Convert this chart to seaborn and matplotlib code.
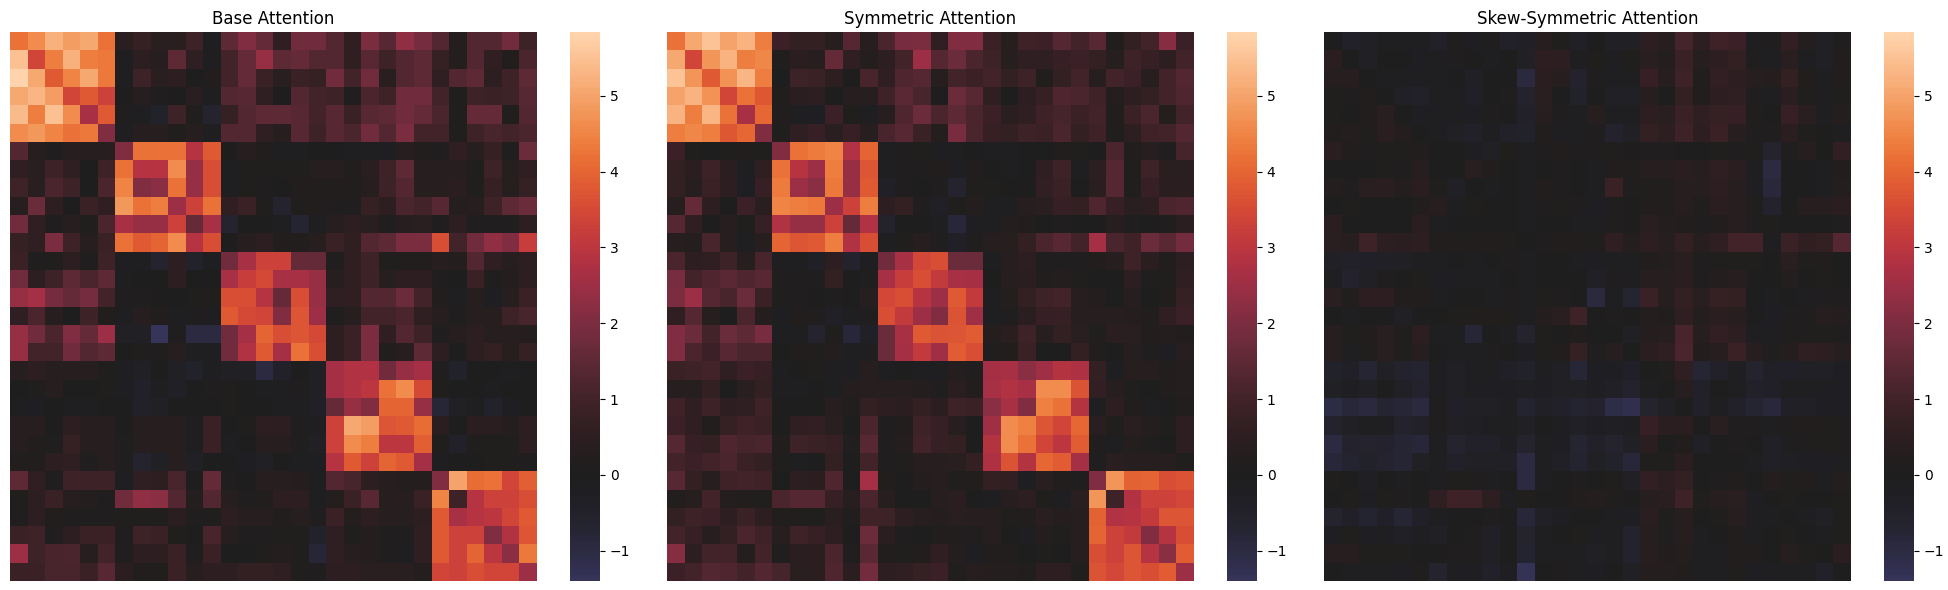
import numpy as np
import matplotlib
matplotlib.use("Agg")
import matplotlib.pyplot as plt
import seaborn as sns

titles = ["Base Attention", "Symmetric Attention", "Skew-Symmetric Attention"]

base_rows = [
    [4.2,4.6,5.2,4.9,5.1,4.2, 0.4,0.7,0.4,0.4,0.9,-0.1, 1.5,2.1,1.6,0.6,1.8,1.8, 1.3,0.6,2.0,1.4,2.3,1.9, 1.3,0.25,1.3,1.3,1.8,0.9],
    [5.5,3.4,4.4,5.2,4.4,4.3, -0.1,0.5,0.3,1.5,0.6,-0.1, 1.0,1.6,2.4,1.5,1.6,1.3, 1.3,0.6,1.4,0.9,1.3,1.5, 0.7,0.25,1.3,0.6,0.2,1.2],
    [5.84,5.1,3.8,4.5,5.1,4.3, -0.1,0.9,0.4,0.5,0.0,0.2, 1.0,1.6,0.8,0.4,0.8,0.7, 1.8,1.0,1.8,0.4,1.3,1.5, 0.6,1.3,1.5,0.5,0.9,1.5],
    [5.1,5.3,4.9,3.4,3.8,3.3, 0.0,0.3,0.05,0.0,0.4,-0.2, 1.3,1.4,0.6,0.0,1.3,1.0, 0.9,0.05,1.2,0.9,1.8,1.8, 1.0,0.15,0.9,0.8,0.9,1.4],
    [5.4,4.4,5.5,4.6,2.7,3.8, 0.05,-0.15,-0.5,0.9,0.15,-0.6, 0.7,1.3,1.5,1.5,1.4,1.0, 1.4,0.8,1.4,1.5,1.8,1.6, 1.2,0.15,1.6,1.6,0.15,1.3],
    [4.6,4.8,4.5,4.2,4.3,2.1, -0.1,0.3,0.3,0.2,0.3,-0.2, 1.3,1.3,0.6,0.3,1.4,0.9, 1.4,1.2,1.8,1.3,2.0,1.0, 1.0,0.15,0.9,1.1,1.0,1.2],
    [1.3,0.3,0.05,0.3,0.3,0.3, 2.1,4.2,4.2,4.2,2.9,3.8, 0.0,0.3,0.2,-0.1,-0.1,0.0, 0.0,-0.1,-0.1,-0.1,0.3,0.2, 0.05,0.6,0.3,0.7,0.05,1.7],
    [0.6,0.4,0.9,0.6,0.0,0.9, 4.2,2.9,2.9,4.6,2.4,3.6, -0.15,0.15,0.1,0.1,0.1,0.3, 0.3,0.2,0.4,0.9,1.5,0.3, 0.35,0.35,0.15,0.9,0.35,0.6],
    [0.9,0.4,1.2,0.9,0.0,1.2, 4.5,2.1,2.2,4.2,2.4,3.6, -0.2,0.15,0.05,-0.05,0.2,0.2, 0.2,0.2,0.3,0.9,1.3,0.3, 0.35,0.45,0.15,0.7,0.35,0.7],
    [0.3,1.7,0.5,0.0,0.8,0.6, 4.8,4.2,4.4,2.5,3.3,4.2, 0.6,0.8,0.15,-0.6,0.15,0.2, 0.05,0.05,0.7,0.5,1.2,1.0, 1.4,0.25,0.35,0.9,1.5,1.7],
    [1.8,0.6,0.05,0.3,0.15,1.2, 2.7,2.4,2.4,3.3,1.6,2.7, -0.6,0.0,-0.05,-0.2,-0.7,-0.2, 0.3,0.5,0.4,0.05,0.3,0.4, 0.05,0.5,0.05,0.05,0.05,0.5],
    [0.7,0.6,2.0,0.9,0.3,0.8, 4.2,3.8,4.0,4.6,2.9,3.6, 0.0,0.3,0.5,0.2,0.2,0.3, 0.8,0.6,1.3,1.5,2.0,2.0, 3.6,1.0,1.8,2.3,2.1,3.2],
    [0.8,0.05,0.15,0.5,0.05,0.9, -0.15,-0.15,-0.6,0.5,-0.5,-0.15, 1.8,2.7,3.3,3.3,1.6,1.6, 0.05,0.6,0.9,0.1,0.2,0.2, 0.3,0.25,1.3,0.6,0.35,0.55],
    [1.8,0.5,0.9,1.5,1.2,1.5, -0.15,0.0,0.0,0.5,-0.05,-0.05, 2.7,3.2,3.5,2.7,2.7,2.4, 0.3,0.6,0.9,0.3,0.5,0.5, 0.05,0.0,0.8,0.05,0.25,0.55],
    [2.4,2.6,1.9,1.6,1.9,1.0, 0.05,0.05,0.0,0.0,0.1,0.1, 3.6,3.6,2.9,1.6,3.6,2.4, 0.6,0.6,1.3,1.3,1.7,1.0, 0.2,-0.15,0.3,-0.15,0.3,0.8],
    [0.6,1.2,0.3,0.0,0.9,0.2, -0.2,0.3,0.2,-0.15,0.05,-0.1, 3.8,3.5,3.4,2.1,3.7,2.5, 0.05,0.3,1.0,1.0,1.2,0.6, 0.3,0.05,0.3,0.3,0.9,1.1],
    [2.4,1.8,1.2,2.1,1.6,2.5, -0.3,-0.3,-1.4,0.05,-1.0,-1.0, 1.8,2.6,4.0,3.6,3.7,3.5, 0.5,0.8,2.0,0.6,1.3,0.9, 0.05,0.3,0.5,0.3,0.35,0.25],
    [2.4,1.0,1.0,1.8,1.3,1.5, 0.0,0.1,0.05,0.3,-0.15,-0.2, 1.8,2.8,3.8,2.6,4.2,3.6, 0.5,0.8,2.0,0.2,0.3,1.5, 0.55,0.0,0.55,0.65,0.3,0.7],
    [0.3,0.5,0.3,0.3,0.3,0.1, -0.15,-0.3,0.0,-0.3,-0.5,-0.2, -0.3,-0.3,-1.0,-0.45,0.0,-0.35, 2.6,2.8,2.8,1.8,2.4,2.6, 0.05,-0.5,-0.05,-0.05,-0.15,0.0],
    [0.0,0.1,0.3,0.0,0.0,0.1, -0.25,-0.45,-0.15,-0.4,0.0,0.05, 0.1,0.0,-0.1,-0.15,0.05,-0.35, 2.6,2.8,3.0,4.2,4.6,3.5, 0.15,-0.05,0.0,-0.1,0.0,0.0],
    [-0.15,-0.25,0.0,-0.15,-0.2,0.0, 0.0,-0.45,-0.3,0.0,0.0,0.0, 0.1,0.0,0.0,-0.15,-0.2,-0.4, 1.6,2.4,2.1,4.0,4.0,2.4, -0.8,-0.35,-0.2,-0.5,-0.25,-0.05],
    [0.3,0.3,0.0,0.5,0.35,0.35, 0.0,0.3,0.35,0.3,-0.1,0.8, 0.0,0.15,0.5,0.5,0.05,-0.15, 3.3,5.1,4.9,3.7,3.8,4.1, 0.45,0.0,0.45,0.45,0.25,0.55],
    [0.35,0.2,0.05,0.7,0.35,0.35, 0.05,0.3,0.35,0.3,-0.15,0.8, -0.1,0.0,0.3,0.3,0.05,-0.3, 3.3,4.6,4.4,3.0,3.0,3.9, 0.15,-0.45,0.15,0.15,0.1,0.55],
    [0.2,0.2,0.5,0.6,0.05,0.3, 0.05,-0.6,-0.35,0.3,-0.35,0.0, -0.05,-0.25,-0.3,0.0,-0.1,-0.15, 2.9,3.8,3.3,4.0,3.8,2.6, -0.15,0.0,0.0,0.15,0.15,0.05],
    [1.5,0.6,0.05,0.9,0.9,0.9, -0.15,0.6,0.5,1.1,-0.05,1.6, 0.05,0.0,0.3,0.3,0.25,-0.15, 1.3,1.1,0.55,0.35,0.25,0.25, 2.1,5.0,4.1,4.2,3.4,3.9],
    [0.15,0.5,0.8,0.35,0.25,0.05, 1.8,2.3,2.2,1.3,0.25,1.3, 0.3,0.05,0.2,0.55,0.55,-0.1, 0.25,0.8,1.4,0.3,0.3,0.8, 4.5,0.9,2.9,3.3,3.3,3.6],
    [0.05,0.5,0.2,0.05,0.05,0.05, 0.15,0.15,0.15,0.45,0.05,0.15, 0.5,0.3,0.3,0.2,0.3,0.05, 0.8,0.25,0.55,0.35,0.35,0.55, 3.8,2.7,2.9,3.0,3.4,3.8],
    [0.8,0.9,0.05,0.5,0.8,0.8, 0.05,0.9,0.8,0.15,0.0,1.1, 0.3,0.05,0.05,0.15,0.15,-0.5, 0.6,0.05,0.25,0.05,0.05,0.6, 3.8,3.3,3.3,2.1,2.8,3.7],
    [2.5,0.9,1.1,1.2,0.35,1.0, 0.05,0.5,0.5,0.8,0.05,0.8, 0.0,0.0,0.15,0.25,0.15,-0.8, 0.6,0.35,0.25,0.05,-0.15,0.6, 3.8,3.3,4.0,3.0,2.2,4.3],
    [0.8,0.8,1.1,1.1,0.8,1.4, 0.45,0.2,0.2,0.8,0.35,0.55, 0.55,0.65,0.65,0.6,0.15,0.05, 0.5,0.5,0.4,0.4,0.4,0.25, 3.4,3.3,3.6,3.4,3.4,2.5],
]

base = np.array(base_rows, dtype=float)
symmetric = (base + base.T) / 2.0
skew = (base - base.T) / 2.0
matrices = [base, symmetric, skew]

vmin = base.min()
vmax = base.max()

W, H = 1949, 590
fig = plt.figure(figsize=(W / 100, H / 100), dpi=100)

panel_step = 657
for i, (mat, title) in enumerate(zip(matrices, titles)):
    x0 = 10 + i * panel_step
    ax = fig.add_axes([x0 / W, 1 - 581 / H, 527 / W, 549 / H])
    cax = fig.add_axes([(x0 + 560) / W, 1 - 581 / H, 30 / W, 549 / H])
    sns.heatmap(mat, ax=ax, cbar_ax=cax, center=0, vmin=vmin, vmax=vmax,
                xticklabels=False, yticklabels=False)
    ax.set_title(title, fontsize=12)
    cax.tick_params(labelsize=10)

fig.savefig("out.png", dpi=100)
